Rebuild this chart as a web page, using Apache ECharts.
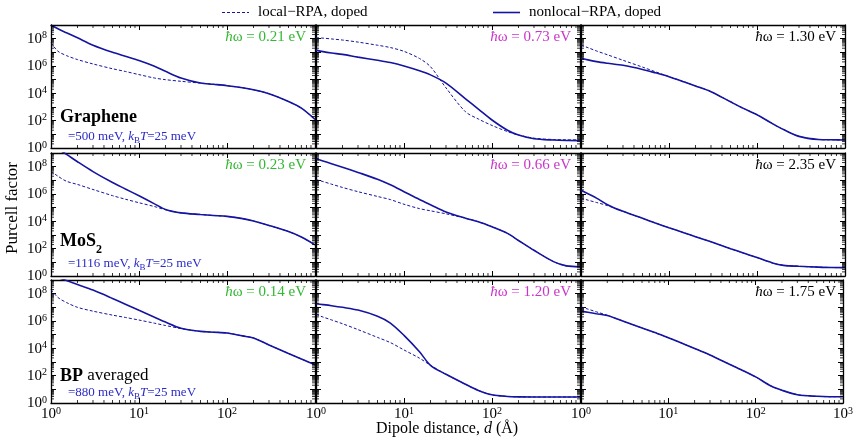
<!DOCTYPE html>
<html><head><meta charset="utf-8">
<script src="https://cdn.jsdelivr.net/npm/echarts@6/dist/echarts.min.js"></script>
<style>html,body{margin:0;padding:0;background:#fff}#c{width:856px;height:444px}</style>
</head><body><div id="c"></div>
<script>
// Dipole distance d (Å)
const distance = [1, 1.2, 1.5, 2, 3, 5, 7, 10, 15, 20, 30, 50, 70, 100, 150, 200, 300, 500, 700, 1000];
// log10(Purcell factor)
const grapheneA_local    = [7.7, 7.08, 6.76, 6.47, 6.15, 5.8, 5.6, 5.37, 5.12, 5.0, 4.88, 4.75, 4.66, 4.56, 4.41, 4.26, 3.97, 3.4, 2.92, 2.1];
const grapheneA_nonlocal = [9.0, 8.72, 8.43, 8.06, 7.52, 7.0, 6.71, 6.4, 5.98, 5.61, 5.12, 4.75, 4.66, 4.56, 4.41, 4.26, 3.97, 3.4, 2.92, 2.1];
const grapheneB_local    = [8.07, 8.04, 7.98, 7.9, 7.75, 7.52, 7.35, 7.07, 6.55, 5.95, 4.4, 2.65, 2.12, 1.65, 1.2, 0.95, 0.72, 0.62, 0.6, 0.59];
const grapheneB_nonlocal = [7.16, 7.05, 6.95, 6.85, 6.65, 6.42, 6.25, 6.0, 5.65, 5.35, 4.75, 3.6, 2.85, 2.05, 1.3, 0.95, 0.68, 0.58, 0.55, 0.54];
const grapheneC_local    = [7.52, 7.34, 7.1, 6.82, 6.42, 5.92, 5.58, 5.22, 4.83, 4.54, 4.12, 3.38, 2.9, 2.43, 1.78, 1.35, 0.85, 0.62, 0.6, 0.59];
const grapheneC_nonlocal = [6.59, 6.45, 6.32, 6.2, 6.05, 5.75, 5.5, 5.22, 4.83, 4.54, 4.12, 3.38, 2.9, 2.43, 1.78, 1.35, 0.85, 0.62, 0.6, 0.59];
const mos2A_local        = [7.67, 7.3, 6.93, 6.7, 6.33, 5.88, 5.62, 5.36, 5.08, 4.85, 4.62, 4.5, 4.43, 4.36, 4.2, 4.02, 3.7, 3.25, 2.85, 2.28];
const mos2A_nonlocal     = [9.6, 9.3, 8.9, 8.36, 7.64, 6.84, 6.37, 5.87, 5.28, 4.87, 4.62, 4.5, 4.43, 4.36, 4.2, 4.02, 3.7, 3.25, 2.85, 2.28];
const mos2B_local        = [7.06, 6.91, 6.72, 6.48, 6.17, 5.82, 5.59, 5.25, 4.93, 4.77, 4.55, 4.23, 3.97, 3.6, 3.12, 2.6, 1.88, 1.05, 0.74, 0.68];
const mos2B_nonlocal     = [8.58, 8.42, 8.22, 7.96, 7.58, 7.08, 6.67, 6.17, 5.6, 5.22, 4.69, 4.23, 3.97, 3.6, 3.12, 2.6, 1.88, 1.05, 0.74, 0.68];
const mos2C_local        = [5.71, 5.55, 5.38, 5.15, 4.73, 4.22, 3.88, 3.53, 3.15, 2.88, 2.5, 2.0, 1.68, 1.35, 0.95, 0.78, 0.71, 0.65, 0.62, 0.61];
const mos2C_nonlocal     = [6.28, 6.02, 5.7, 5.22, 4.73, 4.22, 3.88, 3.53, 3.15, 2.88, 2.5, 2.0, 1.68, 1.35, 0.95, 0.78, 0.71, 0.65, 0.62, 0.61];
const bpA_local          = [8.3, 7.72, 7.35, 7.0, 6.72, 6.43, 6.26, 6.07, 5.84, 5.67, 5.45, 5.24, 5.18, 5.12, 4.91, 4.76, 4.25, 3.62, 3.22, 2.79];
const bpA_nonlocal       = [9.37, 9.18, 8.96, 8.67, 8.26, 7.65, 7.23, 6.78, 6.28, 5.92, 5.47, 5.24, 5.18, 5.12, 4.91, 4.76, 4.25, 3.62, 3.22, 2.79];
const bpB_local          = [6.47, 6.29, 6.08, 5.8, 5.37, 4.8, 4.42, 3.88, 3.28, 2.76, 2.1, 1.37, 0.92, 0.6, 0.48, 0.45, 0.44, 0.44, 0.44, 0.44];
const bpB_nonlocal       = [7.26, 7.2, 7.12, 7.0, 6.8, 6.35, 5.85, 4.95, 3.75, 2.76, 2.1, 1.37, 0.92, 0.6, 0.48, 0.45, 0.44, 0.44, 0.44, 0.44];
const bpC_local          = [7.03, 6.87, 6.67, 6.42, 6.0, 5.49, 5.15, 4.78, 4.32, 3.99, 3.51, 2.84, 2.4, 1.91, 1.24, 0.93, 0.61, 0.49, 0.46, 0.46];
const bpC_nonlocal       = [6.72, 6.64, 6.53, 6.4, 6.0, 5.49, 5.15, 4.78, 4.32, 3.99, 3.51, 2.84, 2.4, 1.91, 1.24, 0.93, 0.61, 0.49, 0.46, 0.46];

const photonEnergies = ['0.21', '0.73', '1.30', '0.23', '0.66', '2.35', '0.14', '1.20', '1.75'];
const fermiEnergies = ['500', '1116', '880'];
const seriesNames = ['local\u2212RPA, doped', 'nonlocal\u2212RPA, doped'];
const xTickLabels = [1, 10, 100, 1000];
const yTickLabels = [1, 1e2, 1e4, 1e6, 1e8];

const localSets = [grapheneA_local, grapheneB_local, grapheneC_local, mos2A_local, mos2B_local, mos2C_local, bpA_local, bpB_local, bpC_local];
const nonlocalSets = [grapheneA_nonlocal, grapheneB_nonlocal, grapheneC_nonlocal, mos2A_nonlocal, mos2B_nonlocal, mos2C_nonlocal, bpA_nonlocal, bpB_nonlocal, bpC_nonlocal];

const FF = '"Liberation Serif", "DejaVu Serif", serif';
const LINE = '#1414a0';
const ANN = '#2a2ac8';
const labelColors = ['#33b833', '#cc33cc', '#000000'];
const rowTops = [25, 153, 280];
const colLefts = [51, 316, 581];
const W = 264, H = 123;

const minorX = [], minorY = [];
for (let e = 0; e < 3; e++) for (let m = 2; m <= 9; m++) minorX.push(m * Math.pow(10, e));
for (let e = 0; e < 9; e++) for (let m = 2; m <= 9; m++) minorY.push(m * Math.pow(10, e));

const chart = echarts.init(document.getElementById('c'), null, {renderer: 'canvas'});
const grid = [], xAxis = [], yAxis = [], series = [], graphic = [];
const supRich = {
  b: {fontSize: 15, fontFamily: FF, color: '#000', verticalAlign: 'bottom', lineHeight: 16},
  s: {fontSize: 10, fontFamily: FF, color: '#000', verticalAlign: 'top', lineHeight: 10}
};
function expOf(v) { return Math.round(Math.log10(v)); }

for (let i = 0; i < 9; i++) {
  const row = Math.floor(i / 3), col = i % 3;
  grid.push({left: colLefts[col], top: rowTops[row], width: W, height: H, containLabel: false});
  const axisLine = {show: true, onZero: false, lineStyle: {color: '#000', width: 1.3}};
  const tick = {show: true, inside: true, length: 5, lineStyle: {color: '#000', width: 1}};
  xAxis.push({
    type: 'log', logBase: 10, min: 1, max: 1000, gridIndex: i, position: 'bottom',
    axisLine, axisTick: tick, splitLine: {show: false},
    axisLabel: {
      show: row === 2, margin: 3, fontFamily: FF, fontSize: 15, color: '#000',
      formatter: v => {
        const e = expOf(v);
        if (!xTickLabels.some(t => expOf(t) === e)) return '';
        if (col < 2 && e === 3) return '';
        return '{b|10}{s|' + e + '}';
      },
      rich: supRich
    }
  });
  xAxis.push({
    type: 'log', logBase: 10, min: 1, max: 1000, gridIndex: i, position: 'top',
    axisLine, axisTick: tick, splitLine: {show: false}, axisLabel: {show: false}
  });
  yAxis.push({
    type: 'log', logBase: 10, min: 1, max: 1e9, gridIndex: i, position: 'left',
    axisLine, axisTick: tick, splitLine: {show: false},
    axisLabel: {
      show: col === 0, margin: 4, fontFamily: FF, fontSize: 15, color: '#000',
      formatter: v => {
        const e = expOf(v);
        if (!yTickLabels.some(t => expOf(t) === e)) return '';
        return '{b|10}{s|' + e + '}';
      },
      rich: supRich
    }
  });
  yAxis.push({
    type: 'log', logBase: 10, min: 1, max: 1e9, gridIndex: i, position: 'right',
    axisLine, axisTick: tick, splitLine: {show: false}, axisLabel: {show: false}
  });
  const xi = 2 * i, yi = 2 * i;
  series.push({
    name: seriesNames[0], type: 'line', xAxisIndex: xi, yAxisIndex: yi,
    data: distance.map((d, k) => [d, Math.pow(10, localSets[i][k])]),
    symbol: 'none', smooth: 0.3, clip: true, silent: true,
    lineStyle: {color: LINE, width: 1, type: [3, 2]}, z: 3
  });
  series.push({
    name: seriesNames[1], type: 'line', xAxisIndex: xi, yAxisIndex: yi,
    data: distance.map((d, k) => [d, Math.pow(10, nonlocalSets[i][k])]),
    symbol: 'none', smooth: 0.3, clip: true, silent: true,
    lineStyle: {color: LINE, width: 1.6}, z: 4
  });
  // minor ticks (log-spaced) on all four sides
  const tickData = minorX.map(v => [v, 1, 0]).concat(minorY.map(v => [1, v, 1]));
  series.push({
    type: 'custom', xAxisIndex: xi, yAxisIndex: yi, silent: true, clip: false, z: 5,
    data: tickData,
    renderItem: (params, api) => {
      const cs = params.coordSys;
      const kind = api.value(2);
      const p = api.coord([api.value(0), api.value(1)]);
      const st = {stroke: '#000', lineWidth: 0.8};
      if (kind === 0) {
        return {type: 'group', children: [
          {type: 'line', shape: {x1: p[0], y1: cs.y + cs.height, x2: p[0], y2: cs.y + cs.height - 3}, style: st},
          {type: 'line', shape: {x1: p[0], y1: cs.y, x2: p[0], y2: cs.y + 3}, style: st}
        ]};
      }
      return {type: 'group', children: [
        {type: 'line', shape: {x1: cs.x, y1: p[1], x2: cs.x + 3, y2: p[1]}, style: st},
        {type: 'line', shape: {x1: cs.x + cs.width, y1: p[1], x2: cs.x + cs.width - 3, y2: p[1]}, style: st}
      ]};
    }
  });
  // photon energy label
  graphic.push({
    type: 'text', x: colLefts[col] + W - 9, y: rowTops[row] + 12, z: 10,
    style: {
      text: '{i|\u0127}{n|\u03c9 = ' + photonEnergies[i] + ' eV}',
      align: 'right', verticalAlign: 'middle', fill: labelColors[col],
      rich: {
        i: {fontStyle: 'italic', fontSize: 15, fontFamily: FF, fill: labelColors[col]},
        n: {fontSize: 15, fontFamily: FF, fill: labelColors[col]}
      }
    }
  });
}

// material labels
const matY = [126, 256, 385];
const annY = [145, 272, 401];
const matTexts = ['{b|Graphene}', '{b|MoS}{sb|2}', '{b|BP}{n| averaged}'];
for (let r = 0; r < 3; r++) {
  graphic.push({
    type: 'text', x: 60, y: matY[r], z: 10,
    style: {
      text: matTexts[r], verticalAlign: 'bottom', fill: '#000',
      rich: {
        b: {fontWeight: 'bold', fontSize: 18, fontFamily: FF, fill: '#000', verticalAlign: 'top', lineHeight: 18},
        sb: {fontWeight: 'bold', fontSize: 12, fontFamily: FF, fill: '#000', verticalAlign: 'bottom', lineHeight: 24},
        n: {fontSize: 17, fontFamily: FF, fill: '#000', verticalAlign: 'top', lineHeight: 18}
      }
    }
  });
  graphic.push({
    type: 'text', x: 68, y: annY[r], z: 10,
    style: {
      text: '{n|=' + fermiEnergies[r] + ' meV, }{i|k}{sub|B}{i|T}{n|=25 meV}',
      verticalAlign: 'bottom', fill: ANN,
      rich: {
        n: {fontSize: 13, fontFamily: FF, fill: ANN, verticalAlign: 'top', lineHeight: 13},
        i: {fontSize: 13, fontStyle: 'italic', fontFamily: FF, fill: ANN, verticalAlign: 'top', lineHeight: 13},
        sub: {fontSize: 9, fontFamily: FF, fill: ANN, verticalAlign: 'bottom', lineHeight: 15}
      }
    }
  });
}

// legend
graphic.push({type: 'line', shape: {x1: 222, y1: 12.5, x2: 249, y2: 12.5}, style: {stroke: LINE, lineWidth: 1, lineDash: [3, 2]}});
graphic.push({type: 'text', x: 258, y: 12.5, style: {text: seriesNames[0], font: '15px ' + FF, fill: '#000', verticalAlign: 'middle'}});
graphic.push({type: 'line', shape: {x1: 493, y1: 12.5, x2: 520, y2: 12.5}, style: {stroke: LINE, lineWidth: 1.6}});
graphic.push({type: 'text', x: 529, y: 12.5, style: {text: seriesNames[1], font: '15px ' + FF, fill: '#000', verticalAlign: 'middle'}});

// axis titles
graphic.push({type: 'text', x: 13, y: 208, rotation: Math.PI / 2,
  style: {text: 'Purcell factor', font: '17px ' + FF, fill: '#000', align: 'center', verticalAlign: 'middle'}});
graphic.push({type: 'text', x: 447, y: 429,
  style: {text: 'Dipole distance, {i|d} (\u00c5)', font: '16px ' + FF, fill: '#000', align: 'center', verticalAlign: 'middle',
    rich: {i: {fontStyle: 'italic', fontSize: 16, fontFamily: FF, fill: '#000'}}}});

chart.setOption({
  animation: false,
  backgroundColor: '#fff',
  grid, xAxis, yAxis, series, graphic
});
</script></body></html>
